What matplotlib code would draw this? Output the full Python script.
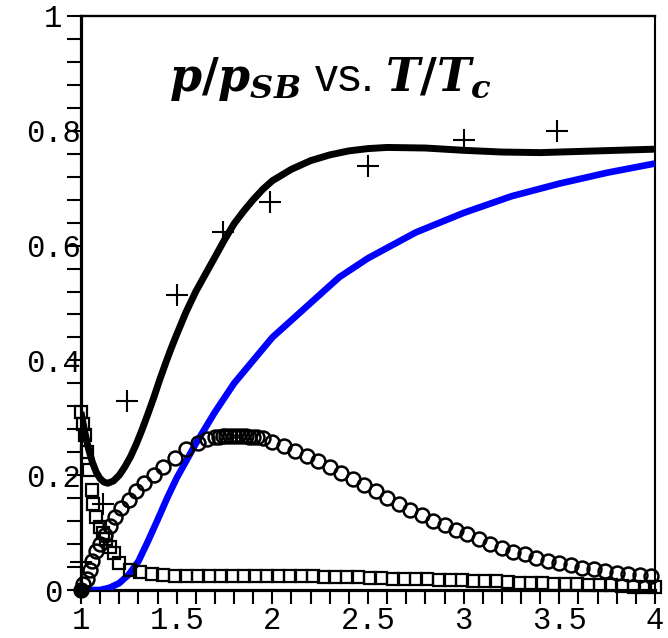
import numpy as np
import matplotlib
matplotlib.use("Agg")
import matplotlib.pyplot as plt
from matplotlib.ticker import MultipleLocator, FormatStrFormatter

# total pressure (thick black line)
total_t = [1.0, 1.02, 1.04, 1.06, 1.08, 1.1, 1.12, 1.14, 1.17, 1.2, 1.23, 1.26,
           1.29, 1.32, 1.35, 1.38, 1.41, 1.44, 1.47, 1.5, 1.55, 1.6, 1.65, 1.7,
           1.75, 1.8, 1.85, 1.9, 1.95, 2.0, 2.1, 2.2, 2.3, 2.4, 2.5, 2.6, 2.8,
           3.0, 3.2, 3.4, 3.6, 3.8, 4.0]
total_p = [0.31, 0.275, 0.245, 0.222, 0.205, 0.194, 0.188, 0.186, 0.19, 0.2, 0.215, 0.233,
           0.255, 0.28, 0.307, 0.335, 0.365, 0.393, 0.42, 0.445, 0.485, 0.52, 0.55, 0.58,
           0.61, 0.638, 0.66, 0.68, 0.698, 0.713, 0.733, 0.748, 0.758, 0.765, 0.769, 0.771, 0.77,
           0.766, 0.763, 0.762, 0.764, 0.766, 0.768]

# second contribution (blue line)
blue_t = [1.0, 1.05, 1.1, 1.15, 1.2, 1.25, 1.3, 1.35, 1.4, 1.45, 1.5, 1.6, 1.7, 1.8,
          1.9, 2.0, 2.1, 2.2, 2.35, 2.5, 2.75, 3.0, 3.25, 3.5, 3.75, 4.0]
blue_p = [0.0, 0.0, 0.0, 0.004, 0.012, 0.027, 0.05, 0.085, 0.122, 0.16, 0.195, 0.255,
          0.31, 0.36, 0.40, 0.44, 0.47, 0.50, 0.545, 0.578, 0.623, 0.657, 0.686, 0.708,
          0.727, 0.743]

# open circles
circ_t = [1.0, 1.01, 1.03, 1.045, 1.06, 1.08, 1.1, 1.125, 1.15, 1.18, 1.21, 1.25,
          1.29, 1.33, 1.38, 1.43, 1.49, 1.55, 1.61, 1.66, 1.70, 1.72, 1.74, 1.76,
          1.78, 1.80, 1.82, 1.84, 1.86, 1.88, 1.90, 1.92, 1.95, 2.0, 2.06, 2.12,
          2.18, 2.24, 2.30, 2.36, 2.42, 2.48, 2.54, 2.60, 2.66, 2.72, 2.78, 2.84,
          2.90, 2.96, 3.02, 3.08, 3.14, 3.20, 3.26, 3.32, 3.38, 3.44, 3.50, 3.56,
          3.62, 3.68, 3.74, 3.80, 3.86, 3.92, 3.98]
circ_p = [0.0, 0.01, 0.02, 0.035, 0.05, 0.068, 0.08, 0.095, 0.112, 0.127, 0.142, 0.157,
          0.172, 0.186, 0.2, 0.215, 0.23, 0.245, 0.256, 0.263, 0.266, 0.267, 0.268, 0.268,
          0.268, 0.268, 0.268, 0.268, 0.268, 0.267, 0.267, 0.266, 0.265, 0.258, 0.251, 0.243,
          0.234, 0.224, 0.214, 0.204, 0.194, 0.183, 0.172, 0.161, 0.150, 0.140, 0.130, 0.121,
          0.113, 0.105, 0.097, 0.089, 0.081, 0.074, 0.067, 0.062, 0.056, 0.051, 0.047, 0.043,
          0.039, 0.036, 0.033, 0.030, 0.028, 0.026, 0.024]

# open squares
sq_t = [1.0, 1.01, 1.02, 1.03, 1.04, 1.055, 1.065, 1.08, 1.1, 1.115, 1.13, 1.15,
        1.17, 1.2, 1.256, 1.31, 1.37, 1.43, 1.49, 1.55, 1.61, 1.67, 1.73, 1.79,
        1.85, 1.91, 1.97, 2.03, 2.09, 2.15, 2.21, 2.27, 2.33, 2.39, 2.45, 2.51,
        2.57, 2.63, 2.69, 2.75, 2.81, 2.87, 2.93, 2.99, 3.05, 3.11, 3.17, 3.23,
        3.29, 3.35, 3.41, 3.47, 3.53, 3.59, 3.65, 3.71, 3.77, 3.83, 3.89, 3.95, 4.0]
sq_p = [0.31, 0.29, 0.27, 0.24, 0.209, 0.174, 0.15, 0.128, 0.11, 0.099, 0.088, 0.075,
        0.064, 0.047, 0.035, 0.031, 0.028, 0.026, 0.024, 0.025, 0.025, 0.025, 0.025, 0.025,
        0.025, 0.024, 0.024, 0.024, 0.024, 0.024, 0.024, 0.023, 0.023, 0.022, 0.022, 0.021,
        0.021, 0.02, 0.02, 0.019, 0.019, 0.018, 0.018, 0.017, 0.016, 0.015, 0.015, 0.014,
        0.013, 0.012, 0.012, 0.011, 0.010, 0.010, 0.009, 0.008, 0.008, 0.007, 0.006, 0.006,
        0.005]

# crosses
cross_t = [1.0, 1.115, 1.24, 1.5, 1.74, 1.99, 2.5, 3.0, 3.49]
cross_p = [0.049, 0.15, 0.329, 0.514, 0.624, 0.676, 0.739, 0.784, 0.80]

dot_t = [1.0]
dot_p = [0.0]

y_labels = [0.0, 0.2, 0.4, 0.6, 0.8, 1.0]

plt.rcParams["mathtext.fontset"] = "custom"
plt.rcParams["mathtext.it"] = "DejaVu Serif:italic:bold"
plt.rcParams["mathtext.rm"] = "DejaVu Serif:bold"
plt.rcParams["mathtext.bf"] = "DejaVu Serif:italic:bold"

fig = plt.figure(figsize=(6.68, 6.38), dpi=100)
ax = fig.add_axes([81 / 668, 48 / 638, 574 / 668, 574 / 638])

ax.plot(total_t, total_p, color="black", lw=5.0, solid_capstyle="butt",
        solid_joinstyle="round", zorder=3)
ax.plot(blue_t, blue_p, color="#0000ff", lw=4.8, solid_capstyle="butt",
        solid_joinstyle="round", zorder=3)
ax.plot(circ_t, circ_p, ls="none", marker="o", ms=10, mfc="none", mec="black",
        mew=1.8, clip_on=False, zorder=4)
ax.plot(sq_t, sq_p, ls="none", marker="s", ms=9, mfc="none", mec="black",
        mew=1.6, clip_on=False, zorder=4)
ax.plot(cross_t, cross_p, ls="none", marker="+", ms=16, mec="black", mew=1.5,
        clip_on=False, zorder=5)
ax.plot(dot_t, dot_p, ls="none", marker="o", ms=9, color="black", clip_on=False, zorder=5)

ax.set_xlim(1, 4)
ax.set_ylim(0, 1)

ax.xaxis.set_major_locator(MultipleLocator(0.5))
ax.xaxis.set_minor_locator(MultipleLocator(0.1))
ax.yaxis.set_major_locator(MultipleLocator(0.2))
ax.yaxis.set_minor_locator(MultipleLocator(0.04))
ax.xaxis.set_major_formatter(FormatStrFormatter("%g"))

ax.tick_params(which="both", direction="out", length=10, width=1.5, top=False, right=False,
               labelsize=22, labelfontfamily="Liberation Mono")
ax.tick_params(axis="x", which="major", pad=1.5)
ax.tick_params(axis="y", labelleft=False)

# y labels are centred on a column left of the spine, overlapping the ticks
ylab_x = -28 / 574
for v in y_labels:
    ax.text(ylab_x, v, "%g" % v, transform=ax.get_yaxis_transform(),
            ha="center", va="center_baseline", fontsize=22,
            family="Liberation Mono", clip_on=False)

ax.spines["left"].set_linewidth(2.3)
ax.spines["bottom"].set_linewidth(2.3)
ax.spines["top"].set_linewidth(1.7)
ax.spines["right"].set_linewidth(1.5)

ax.text(0.434, 0.89, r"$p/p_{SB}$" + " vs. " + r"$T/T_c$", transform=ax.transAxes,
        ha="center", va="center", fontsize=33, family="Liberation Sans")

fig.savefig("out.png", dpi=100)
